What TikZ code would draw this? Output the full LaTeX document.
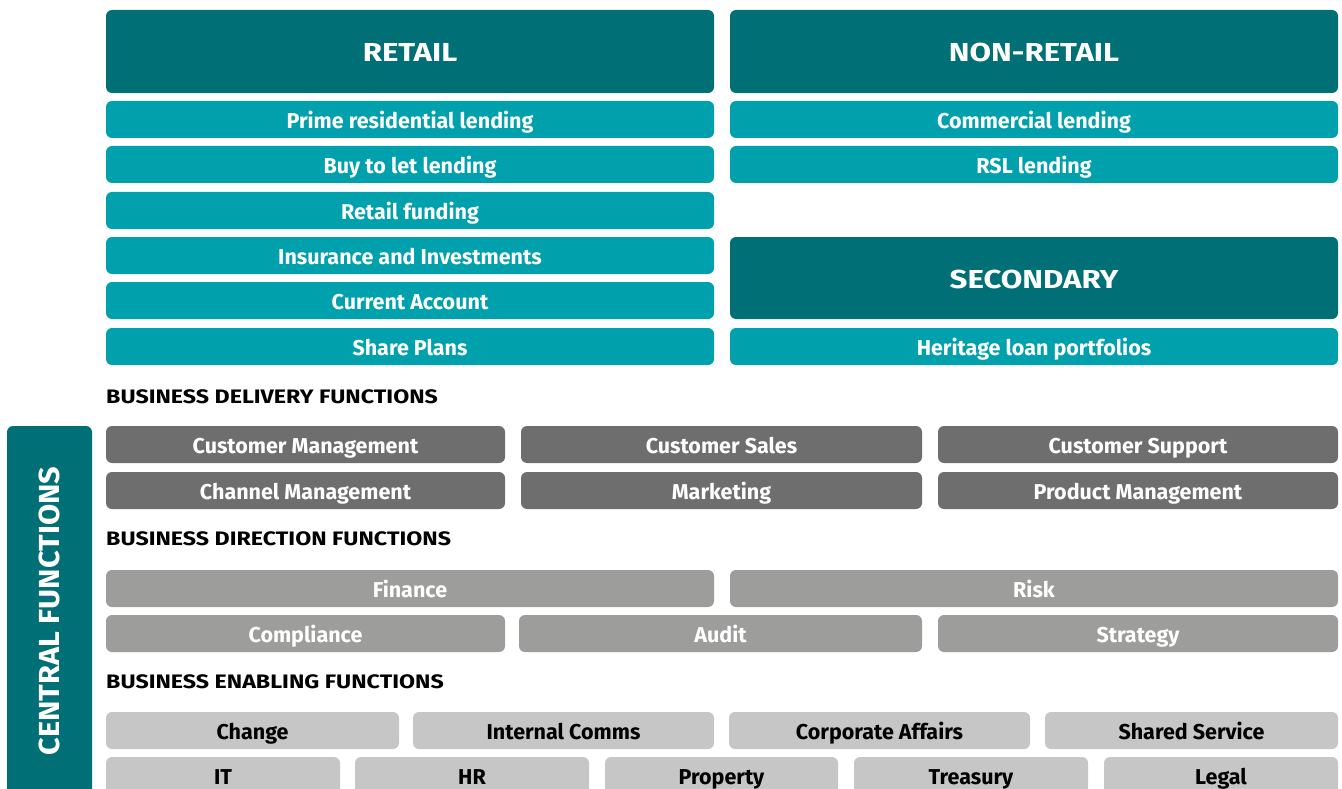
\documentclass[tikz,border=0pt]{standalone}
\usepackage{fontspec}
\setmainfont{Fira Sans}
\newfontfamily\hdfont{Fira Sans}
\definecolor{dteal}{HTML}{007076}
\definecolor{lteal}{HTML}{00A1AC}
\definecolor{dgray}{HTML}{6F6E6E}
\definecolor{mgray}{HTML}{9D9D9C}
\definecolor{lgray}{HTML}{C6C6C6}
\newcommand{\wide}[2]{\scalebox{#1}[1]{#2}}
\tikzset{
  bx/.style={rounded corners=6pt, inner sep=0pt, outer sep=0pt, font=\fontsize{21.5}{24}\selectfont\bfseries, text height=17.6pt, text depth=0pt},
  hdr/.style={bx, fill=dteal, text=white, font=\hdfont\fontsize{26}{30}\selectfont\bfseries, text height=20.4pt},
  tl/.style={bx, fill=lteal, text=white},
  dg/.style={bx, fill=dgray, text=white},
  mg/.style={bx, fill=mgray, text=white},
  lg/.style={bx, fill=lgray, text=black},
  sect/.style={anchor=base west, inner sep=0pt, font=\hdfont\fontsize{19.5}{22}\selectfont\bfseries},
}
\newcommand{\bxx}[7]{%
  \node[#6, minimum width={(#4)-(#2)}, minimum height={(#5)-(#3)}] (#1) at ({((#2)+(#4))/2},{((#3)+(#5))/2}) {#7};}
\begin{document}
\begin{tikzpicture}[x=1pt,y=-1pt]
\useasboundingbox (0,0) rectangle (1342,789);
\clip (0,0) rectangle (1342,789);
% top area
\bxx{retail}{106}{10}{714}{93}{hdr}{\wide{1.2}{RETAIL}}
\bxx{nonretail}{730}{10}{1338}{93}{hdr}{\wide{1.2}{NON-RETAIL}}
\bxx{prime}{106}{101}{714}{138}{tl}{Prime residential lending}
\bxx{btl}{106}{146}{714}{183}{tl}{Buy to let lending}
\bxx{rfund}{106}{192}{714}{229}{tl}{Retail funding}
\bxx{ins}{106}{237}{714}{274}{tl}{Insurance and Investments}
\bxx{curr}{106}{282}{714}{319}{tl}{Current Account}
\bxx{share}{106}{328}{714}{365}{tl}{Share Plans}
\bxx{comm}{730}{101}{1338}{138}{tl}{Commercial lending}
\bxx{rsl}{730}{146}{1338}{183}{tl}{RSL lending}
\bxx{secondary}{730}{237}{1338}{319}{hdr}{\wide{1.2}{SECONDARY}}
\bxx{heritage}{730}{328}{1338}{365}{tl}{Heritage loan portfolios}
% central functions
\bxx{central}{7}{426}{92}{810}{hdr}{}
\node[font=\hdfont\fontsize{29}{32}\selectfont\bfseries, text=white, rotate=90, inner sep=0pt, text height=20pt, text depth=0pt] (centraltxt) at (49.5,611) {\wide{1.06}{CENTRAL FUNCTIONS}};
% delivery
\node[sect] (deliv) at (106,403.3) {\wide{1.19}{BUSINESS DELIVERY FUNCTIONS}};
\bxx{custman}{106}{426}{505}{463}{dg}{Customer Management}
\bxx{custsales}{521}{426}{922}{463}{dg}{Customer Sales}
\bxx{custsup}{938}{426}{1338}{463}{dg}{Customer Support}
\bxx{chan}{106}{472}{505}{509}{dg}{Channel Management}
\bxx{mkt}{521}{472}{922}{509}{dg}{Marketing}
\bxx{prod}{938}{472}{1338}{509}{dg}{Product Management}
% direction
\node[sect] (direc) at (106,545.7) {\wide{1.19}{BUSINESS DIRECTION FUNCTIONS}};
\bxx{fin}{106}{570}{714}{607}{mg}{Finance}
\bxx{risk}{730}{570}{1338}{607}{mg}{Risk}
\bxx{comp}{106}{615}{505}{652}{mg}{Compliance}
\bxx{audit}{519}{615}{922}{652}{mg}{Audit}
\bxx{strat}{938}{615}{1338}{652}{mg}{Strategy}
% enabling
\node[sect] (enab) at (106,688.3) {\wide{1.19}{BUSINESS ENABLING FUNCTIONS}};
\bxx{change}{106}{712}{399}{749}{lg}{Change}
\bxx{icomms}{413}{712}{714}{749}{lg}{Internal Comms}
\bxx{corp}{729}{712}{1030}{749}{lg}{Corporate Affairs}
\bxx{shared}{1045}{712}{1338}{749}{lg}{Shared Service}
\bxx{it}{106}{757}{340}{794}{lg}{IT}
\bxx{hr}{355}{757}{589}{794}{lg}{HR}
\bxx{prop}{605}{757}{838}{794}{lg}{Property}
\bxx{treas}{854}{757}{1088}{794}{lg}{Treasury}
\bxx{legal}{1104}{757}{1338}{794}{lg}{Legal}
\end{tikzpicture}
\end{document}
